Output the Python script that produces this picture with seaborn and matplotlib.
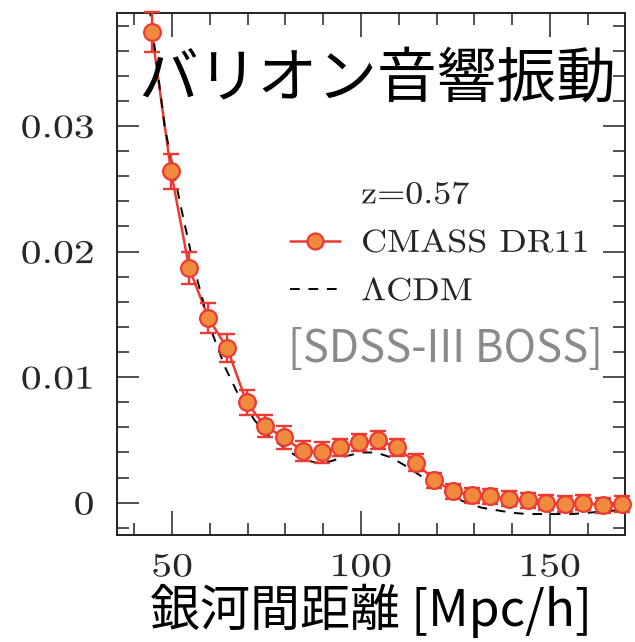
import matplotlib
matplotlib.use("Agg")
import matplotlib.pyplot as plt
import seaborn as sns
from matplotlib.lines import Line2D
from matplotlib.ticker import MultipleLocator
from matplotlib.transforms import Affine2D
from matplotlib.patheffects import AbstractPathEffect

# Measured two-point correlation function (CMASS DR11, z = 0.57)
sep = [44.6, 49.7, 54.5, 59.6, 64.6, 69.7, 74.6, 79.6, 84.6, 89.6, 94.5, 99.5, 104.5,
       109.5, 114.5, 119.4, 124.4, 129.3, 134.2, 139.2, 144.2, 149.1, 154.0, 158.9,
       164.0, 169.0]
xi = [0.0375, 0.0264, 0.0187, 0.0147, 0.0123, 0.0080, 0.0061, 0.0052, 0.0041, 0.0040,
      0.0044, 0.0048, 0.0050, 0.0044, 0.0032, 0.0018, 0.0009, 0.0006, 0.0005, 0.0003,
      0.0002, 0.0000, -0.0001, 0.0000, -0.0002, -0.0001]
xi_err = [0.0016, 0.0014, 0.0013, 0.0012, 0.0011, 0.0010, 0.0009, 0.0009, 0.0008, 0.0008,
          0.0007, 0.0007, 0.0007, 0.0007, 0.0007, 0.0006, 0.0006, 0.0006, 0.0006, 0.0006,
          0.0006, 0.0006, 0.0006, 0.0006, 0.0006, 0.0006]

# LambdaCDM model curve
model_sep = [44, 48, 52, 56, 60, 64, 68, 72, 76, 80, 84, 88, 92, 96, 100, 104, 108, 112,
             116, 120, 124, 128, 132, 136, 140, 144, 148, 152, 156, 160, 164, 168, 172]
model_xi = [0.0395, 0.0300, 0.0240, 0.0185, 0.0140, 0.0108, 0.0083, 0.0065, 0.0052,
            0.0043, 0.0035, 0.0032, 0.0033, 0.0037, 0.0040, 0.0040, 0.0036, 0.0029,
            0.0021, 0.0013, 0.0005, 0.0000, -0.0004, -0.0006, -0.0008, -0.0009,
            -0.0009, -0.0009, -0.0009, -0.0008, -0.0007, -0.0006, -0.0006]

x_ticks = [50, 100, 150]
x_labels = ["50", "100", "150"]
y_ticks = [0.0, 0.01, 0.02, 0.03]
y_labels = ["0", "0.01", "0.02", "0.03"]

title_text = "バリオン音響振動"
xlabel_text = "銀河間距離 [Mpc/h]"
credit_text = "[SDSS-III BOSS]"
legend_labels = ["z=0.57", "CMASS DR11", r"$\Lambda$CDM"]

RED = "#ec3a32"
ORANGE = "#f08a3e"
DASH = (0, (5.0, 4.5))


class Widen(AbstractPathEffect):
    """Stretch glyph outlines horizontally about the left, centre or right of the ink."""

    def __init__(self, sx, anchor="left"):
        super().__init__()
        self.sx = sx
        self.anchor = anchor

    def draw_path(self, renderer, gc, tpath, affine, rgbFace=None):
        ext = tpath.get_extents()
        if self.anchor == "left":
            cx = ext.x0
        elif self.anchor == "right":
            cx = ext.x1
        else:
            cx = 0.5 * (ext.x0 + ext.x1)
        tr = Affine2D().translate(-cx, 0).scale(self.sx, 1).translate(cx, 0)
        renderer.draw_path(gc, tpath, tr + affine, rgbFace)


sns.set_theme(style="ticks")
plt.rcParams["font.family"] = ["cmr10", "DejaVu Serif"]
plt.rcParams["mathtext.fontset"] = "cm"
plt.rcParams["axes.formatter.use_mathtext"] = True
plt.rcParams["axes.unicode_minus"] = False

fig = plt.figure(figsize=(6.35, 6.42), dpi=100)
ax = fig.add_axes([117 / 635, 1 - 535 / 642, 508 / 635, 522 / 642])

# data line and LambdaCDM model (dashed)
sns.lineplot(x=sep, y=xi, ax=ax, color=RED, linewidth=1.8, zorder=2, sort=False)
sns.lineplot(x=model_sep, y=model_xi, ax=ax, color="black", linewidth=1.4,
             linestyle=DASH, zorder=2.5, sort=False)
ax.errorbar(sep, xi, yerr=xi_err, fmt="none", ecolor=RED, elinewidth=1.7,
            capsize=5.5, capthick=1.7, zorder=3, clip_on=False)
sns.scatterplot(x=sep, y=xi, ax=ax, s=145, color=ORANGE, edgecolor=RED,
                linewidth=1.6, zorder=4, clip_on=False)

ax.set_xlim(35.4, 169.9)
ax.set_ylim(-0.00257, 0.0390)

ax.set_xticks(x_ticks)
ax.set_xticklabels(x_labels)
ax.set_yticks(y_ticks)
ax.set_yticklabels(y_labels)
ax.xaxis.set_minor_locator(MultipleLocator(10))
ax.yaxis.set_minor_locator(MultipleLocator(0.002))

ax.tick_params(which="both", direction="in", top=True, right=True, color="#222222",
               width=1.1)
ax.tick_params(axis="x", which="major", length=17.5, labelsize=24, pad=13)
ax.tick_params(axis="y", which="major", length=15.5, labelsize=24, pad=16.5)
ax.tick_params(which="minor", length=8.6)
for s in ax.spines.values():
    s.set_linewidth(1.4)
    s.set_color("#222222")
    s.set_visible(True)

for lab in ax.get_yticklabels():
    lab.set_path_effects([Widen(1.25, "right")])
for lab in ax.get_xticklabels():
    lab.set_path_effects([Widen(1.25, "center")])

# legend
handles = [
    Line2D([], [], linestyle="none"),
    Line2D([], [], color=RED, linewidth=1.8, marker="o", markersize=11.5,
           markerfacecolor=ORANGE, markeredgecolor=RED, markeredgewidth=1.6),
    Line2D([], [], color="black", linewidth=1.4, linestyle=DASH),
]
leg = ax.legend(handles, legend_labels, loc="upper left",
                bbox_to_anchor=((290 - 117) / 508, 1 - (181 - 13) / 522),
                frameon=False, fontsize=23, handlelength=1.55, handletextpad=0.68,
                labelspacing=0.63, borderpad=0, borderaxespad=0)
for t in leg.get_texts():
    t.set_path_effects([Widen(1.13, "left")])

# annotations
fig.text(138 / 635, 1 - 80 / 642, title_text, fontsize=43, color="black",
         family=["Noto Sans CJK JP"], ha="left", va="center")
ax.text((288 - 117) / 508, 1 - (362 - 13) / 522, credit_text, transform=ax.transAxes,
        fontsize=31.5, color="#8a8a8a", family=["Noto Sans CJK JP"],
        ha="left", va="baseline")
ax.set_xlabel(xlabel_text, fontsize=36, family=["Noto Sans CJK JP"], color="black",
              labelpad=1)
ax.set_ylabel("")

fig.savefig("out.png", dpi=100)
